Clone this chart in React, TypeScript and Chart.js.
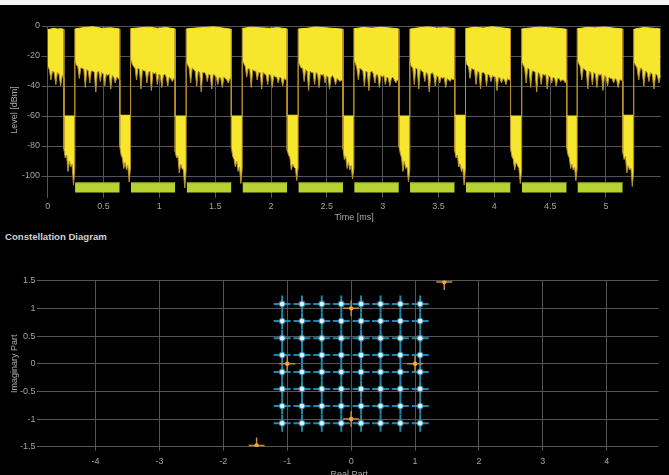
import React, { useEffect, useRef } from "react";
import { Chart, registerables } from "chart.js";

Chart.register(...registerables);

const FONT = "'Liberation Sans', 'DejaVu Sans', sans-serif";

// ---------------- Top panel: level vs. time ----------------
const gapStartMs = [0.145, 0.645, 1.142, 1.645, 2.145, 2.645, 3.145, 3.645, 4.145, 4.648, 5.15];
const gapEndMs = [0.243, 0.742, 1.24, 1.742, 2.243, 2.742, 3.243, 3.742, 4.245, 4.742, 5.248];
const traceEndMs = 5.49;

const burstCeilingDbm = [
  [-2.5, -2, -1.5, -2, -1.8, -2.2],
  [-2, -1, -0.5, -1.5, -1.2, -2],
  [-1.8, -1.2, -0.8, -1.5, -1, -2],
  [-2, -1.4, -1, -0.6, -1.3, -2.2],
  [-1.6, -0.8, -1.2, -1.5, -1.1, -2],
  [-2, -1.5, -0.7, -1.2, -1.6, -2.1],
  [-1.8, -1, -1.4, -0.9, -1.3, -2],
  [-2.1, -1.2, -0.6, -1.4, -1.1, -1.9],
  [-1.7, -0.9, -1.3, -0.5, -1.2, -2],
  [-2, -1.3, -0.8, -1.1, -1.5, -2.2],
  [-1.9, -1, -1.2, -0.7, -1.4, -2],
  [-2.2, -1.5, -1, -1.3, -1.6, -2],
];

const burstFloorDbm = [
  [-27, -29, -36, -30, -31, -39, -31, -32, -40, -33, -35],
  [-23, -26, -27, -35, -28, -28, -29, -41, -29, -30, -38, -30, -30, -31, -44, -31, -30, -37, -31, -32, -40, -32, -33, -32, -42, -33, -34, -38, -34, -35, -36],
  [-22, -25, -27, -28, -36, -28, -29, -42, -29, -30, -30, -38, -31, -30, -43, -31, -32, -31, -39, -32, -33, -41, -33, -32, -34, -40, -34, -35, -37, -35, -36],
  [-24, -26, -28, -38, -28, -29, -30, -40, -30, -31, -44, -31, -31, -32, -37, -32, -33, -42, -32, -33, -34, -39, -34, -35, -41, -34, -35, -36, -38, -35, -36],
  [-23, -25, -27, -34, -28, -29, -41, -29, -30, -30, -36, -31, -31, -42, -31, -32, -33, -39, -32, -33, -41, -33, -34, -34, -38, -34, -35, -40, -35, -36, -35],
  [-24, -26, -28, -28, -37, -29, -30, -43, -30, -31, -31, -39, -31, -32, -41, -32, -33, -32, -38, -33, -34, -42, -34, -33, -35, -39, -35, -36, -37, -36, -37],
  [-23, -25, -28, -36, -28, -29, -30, -40, -30, -31, -43, -31, -30, -32, -38, -32, -33, -41, -33, -34, -33, -39, -34, -35, -40, -35, -34, -36, -38, -36, -36],
  [-24, -27, -28, -39, -28, -29, -42, -29, -30, -31, -37, -31, -32, -44, -32, -31, -33, -40, -33, -34, -38, -34, -35, -34, -41, -35, -36, -37, -35, -36, -35],
  [-23, -26, -27, -35, -28, -29, -29, -39, -30, -31, -42, -31, -31, -32, -40, -32, -33, -37, -33, -34, -34, -43, -34, -35, -38, -35, -36, -39, -35, -36, -36],
  [-24, -26, -28, -38, -28, -29, -41, -30, -30, -31, -44, -31, -32, -39, -32, -33, -32, -42, -33, -34, -38, -34, -35, -40, -35, -35, -37, -36, -36, -38, -36],
  [-23, -25, -27, -36, -28, -29, -30, -42, -30, -31, -39, -31, -32, -41, -32, -33, -32, -43, -33, -34, -40, -34, -35, -35, -38, -35, -36, -41, -36, -36, -37],
  [-24, -26, -28, -36, -28, -29, -40, -30, -31, -37, -31, -32, -42, -32, -33, -38, -33],
];

const gapCeilingDbm = [-60, -59.5, -60, -60, -59.5, -60, -60, -59.5, -60, -60, -59.5];

const gapFloorDbm = [
  [-82, -88, -86, -97, -90, -94, -92, -106, -95],
  [-80, -86, -88, -95, -91, -96, -93, -104, -94],
  [-84, -88, -87, -98, -92, -95, -96, -108, -96],
  [-81, -87, -89, -94, -90, -97, -94, -105, -95],
  [-83, -86, -88, -96, -92, -94, -95, -103, -94],
  [-82, -89, -87, -95, -91, -96, -93, -102, -95],
  [-80, -85, -88, -97, -90, -95, -94, -104, -96],
  [-83, -88, -86, -94, -92, -97, -95, -106, -94],
  [-82, -87, -89, -96, -91, -93, -95, -105, -96],
  [-81, -86, -88, -95, -92, -96, -94, -103, -95],
  [-84, -89, -87, -98, -93, -96, -95, -107, -96],
];

const frameStartMs = [0.245, 0.745, 1.245, 1.745, 2.245, 2.745, 3.245, 3.745, 4.247, 4.745];
const frameEndMs = [0.645, 1.142, 1.645, 2.145, 2.645, 3.145, 3.645, 4.145, 4.648, 5.15];
const frameTopDbm = -104.5;
const frameBottomDbm = -111;

// ---------------- Bottom panel: constellation ----------------
const qamLevelsI = [-1.08, -0.77, -0.46, -0.155, 0.155, 0.46, 0.77, 1.08];
const qamLevelsQ = [1.08, 0.77, 0.46, 0.155, -0.15, -0.455, -0.765, -1.075];
const pilotI = [0, -1, 1, 0, 1.457, -1.48];
const pilotQ = [1, 0, 0, -1, 1.476, -1.478];

const YELLOW = "#f6e62c";
const EDGE = "#b8902c";
const FRAME = "#b7d332";
const FRAME_EDGE = "#8fa928";
const GRID = "#555555";
const TICK = "#a2a2a2";
const TITLE = "#aaaaaa";

type P = { x: number; y: number | null };

function spread(t0: number, t1: number, values: number[]): P[] {
  const n = values.length - 1;
  return values.map((v, k) => ({ x: t0 + ((t1 - t0) * k) / n, y: v }));
}

function buildTrace(burstValues: number[][], gapValues: number[][]): P[] {
  const pts: P[] = [];
  burstValues.forEach((vals, b) => {
    const t0 = b === 0 ? 0 : gapEndMs[b - 1];
    const t1 = b < gapStartMs.length ? gapStartMs[b] : traceEndMs;
    pts.push(...spread(t0, t1, vals));
    if (b < gapStartMs.length) pts.push(...spread(gapStartMs[b], gapEndMs[b], gapValues[b]));
  });
  return pts;
}

const plainNumber = (v: any) => String(Math.round(Number(v) * 100) / 100);

export default function App() {
  const topRef = useRef<HTMLCanvasElement | null>(null);
  const botRef = useRef<HTMLCanvasElement | null>(null);

  useEffect(() => {
    document.body.style.margin = "0";
    document.body.style.background = "#ffffff";

    const upper = buildTrace(burstCeilingDbm, gapCeilingDbm.map((v) => [v, v]));
    const lower = buildTrace(burstFloorDbm, gapFloorDbm);
    const frames: P[] = [];
    frameStartMs.forEach((s, i) => {
      frames.push({ x: s, y: frameTopDbm }, { x: frameEndMs[i], y: frameTopDbm }, { x: frameEndMs[i], y: null });
    });

    const tickFont = { family: FONT, size: 9 };

    const top = new Chart(topRef.current!, {
      type: "line",
      data: {
        datasets: [
          {
            label: "ceiling",
            data: upper as any,
            borderColor: YELLOW,
            borderWidth: 1,
            pointRadius: 0,
            fill: false,
            segment: {
              borderColor: (ctx: any) => (ctx.p0.parsed.x === ctx.p1.parsed.x ? EDGE : YELLOW),
            },
          },
          {
            label: "floor",
            data: lower as any,
            borderColor: EDGE,
            borderWidth: 1,
            pointRadius: 0,
            fill: "-1",
            backgroundColor: YELLOW,
          },
          {
            label: "frames",
            data: frames as any,
            borderColor: FRAME_EDGE,
            backgroundColor: FRAME,
            borderWidth: 1,
            pointRadius: 0,
            spanGaps: false,
            fill: { value: frameBottomDbm },
          },
        ],
      },
      options: {
        responsive: false,
        animation: false,
        events: [],
        layout: { padding: { top: 26, right: 8.3, left: 0, bottom: 0 } },
        plugins: { legend: { display: false }, tooltip: { enabled: false } },
        scales: {
          x: {
            type: "linear",
            min: 0,
            max: traceEndMs,
            afterFit: (s: any) => {
              s.height = 32;
            },
            ticks: { stepSize: 0.5, includeBounds: false, color: TICK, font: tickFont, padding: 3.6, maxRotation: 0, callback: plainNumber },
            grid: { color: GRID, tickLength: 4 },
            border: { display: false },
            title: { display: true, text: "Time [ms]", color: TITLE, font: tickFont, padding: { top: 0, bottom: 3.1 } },
          },
          y: {
            type: "linear",
            min: -112,
            max: 0,
            afterFit: (s: any) => {
              s.width = 47.7;
            },
            ticks: { stepSize: 20, includeBounds: false, color: TICK, font: tickFont, padding: 1.7, callback: plainNumber },
            grid: { color: GRID, tickLength: 6 },
            border: { display: false },
            title: { display: true, text: "Level [dBm]", color: TITLE, font: tickFont, padding: { top: 9.6, bottom: 0 } },
          },
        },
      },
    });

    const qam: P[] = [];
    qamLevelsQ.forEach((q) => qamLevelsI.forEach((i) => qam.push({ x: i, y: q })));
    const pilots: P[] = pilotI.map((x, k) => ({ x, y: pilotQ[k] }));

    const bot = new Chart(botRef.current!, {
      type: "scatter",
      data: {
        datasets: [
          {
            label: "qam-dot",
            data: qam as any,
            pointStyle: "circle",
            pointRadius: 2.3,
            pointHoverRadius: 0,
            pointBackgroundColor: "#e8f0f2",
            pointBorderWidth: 0,
            clip: 0,
          },
          {
            label: "qam-halo",
            data: qam as any,
            pointStyle: "circle",
            pointRadius: 3.4,
            pointHoverRadius: 0,
            pointBackgroundColor: "rgba(70,170,205,0.7)",
            pointBorderWidth: 0,
            clip: 0,
          },
          {
            label: "pilot-dot",
            data: pilots as any,
            pointStyle: "circle",
            pointRadius: 2.2,
            pointHoverRadius: 0,
            pointBackgroundColor: "#f2a640",
            pointBorderWidth: 0,
            clip: 0,
          },
          {
            label: "pilot-cross",
            data: pilots as any,
            pointStyle: "cross",
            pointRadius: 8,
            pointHoverRadius: 0,
            pointBorderColor: "#c98a35",
            pointBorderWidth: 1.5,
            clip: 0,
          },
          {
            label: "qam-cross",
            data: qam as any,
            pointStyle: "cross",
            pointRadius: 8.5,
            pointHoverRadius: 0,
            pointBorderColor: "#1b88ad",
            pointBorderWidth: 2,
            clip: 0,
          },
        ],
      },
      options: {
        responsive: false,
        animation: false,
        events: [],
        layout: { padding: { top: 54.7, right: 5.7, left: 0, bottom: 0 } },
        plugins: { legend: { display: false }, tooltip: { enabled: false } },
        scales: {
          x: {
            type: "linear",
            min: -4.87,
            max: 4.81,
            afterFit: (s: any) => {
              s.height = 34.3;
            },
            ticks: { stepSize: 1, includeBounds: false, color: TICK, font: tickFont, padding: 5.6, maxRotation: 0, callback: plainNumber },
            grid: { color: GRID, tickLength: 4 },
            border: { display: false },
            title: { display: true, text: "Real Part", color: TITLE, font: tickFont, padding: { top: 0, bottom: 1.2 } },
          },
          y: {
            type: "linear",
            min: -1.5,
            max: 1.5,
            afterFit: (s: any) => {
              s.width = 40;
            },
            ticks: { stepSize: 0.5, color: TICK, font: tickFont, padding: 1.5, callback: plainNumber },
            grid: { color: GRID, tickLength: 3 },
            border: { display: false },
            title: { display: true, text: "Imaginary Part", color: TITLE, font: tickFont, padding: { top: 9.6, bottom: 0 } },
          },
        },
      },
    });

    return () => {
      top.destroy();
      bot.destroy();
    };
  }, []);

  return (
    <div style={{ position: "relative", width: 669, height: 475, overflow: "hidden", background: "#f4f4f4" }}>
      <div style={{ position: "absolute", left: 0, top: 5, width: 669, height: 470, background: "#000" }} />
      <canvas ref={topRef} width={669} height={226} style={{ position: "absolute", left: 0, top: 0, display: "block" }} />
      <div
        style={{
          position: "absolute",
          left: 5,
          top: 230.5,
          font: `bold 9.6px ${FONT}`,
          lineHeight: "11px",
          color: "#d2d2d2",
          whiteSpace: "nowrap",
        }}
      >
        Constellation Diagram
      </div>
      <canvas ref={botRef} width={669} height={255} style={{ position: "absolute", left: 0, top: 226, display: "block" }} />
    </div>
  );
}
